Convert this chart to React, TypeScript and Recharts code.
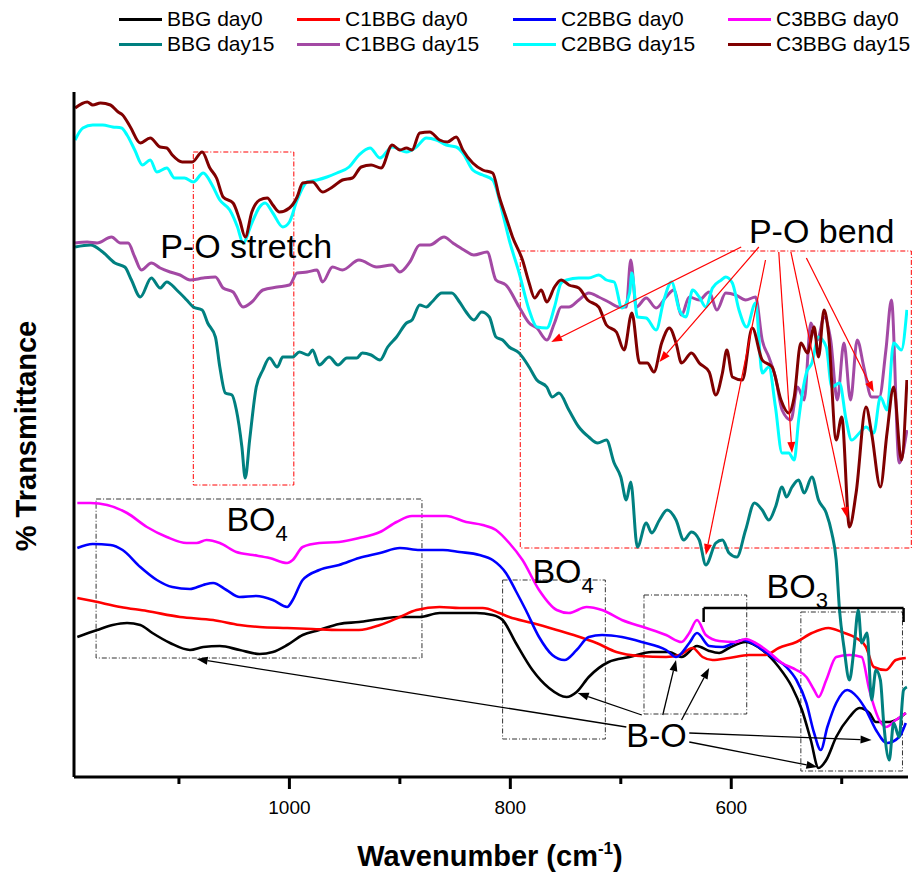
import React from 'react';
import { LineChart, Line, XAxis, YAxis, Legend, ReferenceArea, ReferenceLine, ReferenceDot } from 'recharts';

const FONT = '"Liberation Sans", Arial, Helvetica, sans-serif';

// wavenumber (cm-1), transmittance (arb. units, offset spectra)
const bbgDay0: [number, number][] = [
  [1192, 140], [1174, 147], [1160, 152], [1147, 154], [1135, 152], [1124, 144], [1108, 134], [1090, 127],
  [1078, 130], [1063, 131], [1045, 127], [1027, 123], [1015, 125], [1002, 132], [988, 142], [973, 147],
  [955, 153], [937, 155], [918, 158], [900, 160], [882, 160], [864, 164], [849, 164], [831, 164],
  [816, 162], [807, 157], [795, 134], [780, 107], [765, 89], [749, 80], [740, 85], [729, 100],
  [711, 115], [692, 120], [672, 125], [656, 125], [645, 120], [631, 131], [620, 126], [611, 124],
  [602, 129], [587, 135], [572, 127], [557, 110], [545, 90], [536, 67], [528, 37], [521, 9],
  [514, 17], [505, 40], [493, 60], [484, 69], [475, 64], [469, 55], [457, 55], [448, 59], [442, 64],
];

const c1bbgDay0: [number, number][] = [
  [1192, 179], [1178, 176], [1153, 170], [1129, 166], [1099, 160], [1069, 157], [1045, 152], [1027, 150],
  [1002, 149], [979, 148], [955, 147], [937, 147], [918, 152], [900, 160], [885, 167], [864, 170],
  [846, 169], [825, 169], [810, 164], [801, 160], [780, 154], [758, 147], [740, 141], [722, 134],
  [704, 125], [683, 121], [659, 120], [647, 122], [635, 129], [626, 120], [617, 117], [602, 119],
  [584, 122], [569, 122], [557, 129], [541, 135], [527, 144], [512, 149], [500, 145], [487, 139],
  [478, 130], [471, 110], [460, 107], [451, 117], [442, 119],
];

const c2bbgDay0: [number, number][] = [
  [1192, 229], [1178, 233], [1162, 232], [1151, 227], [1135, 210], [1120, 197], [1106, 190], [1090, 188],
  [1078, 192], [1069, 194], [1057, 187], [1045, 180], [1030, 181], [1015, 177], [1002, 170], [997, 177],
  [988, 197], [973, 207], [955, 212], [937, 219], [918, 224], [900, 229], [882, 227], [861, 227],
  [846, 225], [828, 222], [816, 217], [804, 204], [795, 186], [786, 167], [774, 140], [762, 122],
  [751, 117], [740, 127], [729, 140], [717, 142], [699, 140], [681, 135], [659, 127], [650, 120],
  [638, 134], [631, 144], [620, 131], [608, 130], [590, 137], [578, 132], [563, 120], [550, 110],
  [541, 97], [532, 74], [525, 44], [519, 27], [513, 50], [505, 74], [495, 87], [486, 80],
  [478, 67], [469, 47], [459, 34], [448, 40], [442, 54],
];

const c3bbgDay0: [number, number][] = [
  [1192, 274], [1180, 274], [1165, 272], [1147, 264], [1129, 250], [1111, 240], [1093, 234], [1084, 234],
  [1075, 237], [1063, 234], [1048, 225], [1033, 222], [1018, 219], [1002, 214], [997, 217], [988, 230],
  [973, 234], [955, 235], [937, 239], [918, 245], [903, 255], [889, 261], [876, 261], [858, 261],
  [840, 255], [825, 252], [813, 247], [801, 234], [789, 217], [774, 187], [758, 167], [747, 164],
  [731, 170], [717, 167], [699, 157], [677, 149], [659, 142], [645, 135], [638, 144], [631, 157],
  [623, 142], [611, 136], [596, 135], [587, 138], [578, 134], [566, 125], [554, 114], [541, 107],
  [532, 100], [525, 87], [521, 80], [514, 97], [505, 120], [493, 122], [482, 120], [475, 87],
  [466, 57], [460, 50], [451, 57], [442, 64],
];

const bbgDay15: [number, number][] = [
  [1194, 530], [1180, 532], [1169, 525], [1158, 514], [1149, 510], [1143, 497], [1135, 480], [1125, 499],
  [1117, 489], [1111, 495], [1102, 487], [1093, 477], [1087, 470], [1079, 467], [1074, 454], [1067, 440],
  [1063, 410], [1058, 384], [1052, 382], [1048, 367], [1043, 330], [1040, 299], [1036, 337], [1030, 390],
  [1024, 407], [1018, 419], [1011, 410], [1006, 420], [997, 420], [991, 425], [983, 422], [979, 427],
  [973, 412], [964, 420], [956, 412], [948, 419], [939, 419], [934, 424], [926, 422], [918, 417],
  [911, 430], [903, 440], [894, 454], [889, 457], [882, 472], [876, 470], [871, 475], [862, 484],
  [853, 484], [846, 475], [840, 465], [833, 457], [826, 465], [819, 460], [813, 440], [807, 437],
  [801, 430], [792, 424], [783, 410], [776, 397], [767, 390], [762, 380], [756, 384], [747, 367],
  [738, 350], [729, 340], [721, 334], [713, 337], [706, 314], [700, 300], [695, 277], [691, 295],
  [685, 230], [677, 254], [672, 244], [665, 257], [658, 267], [650, 257], [643, 237], [636, 245],
  [629, 237], [623, 212], [614, 234], [608, 237], [602, 224], [595, 220], [587, 247], [579, 274],
  [572, 267], [566, 257], [560, 270], [554, 290], [550, 280], [545, 290], [539, 297], [534, 284],
  [527, 300], [521, 277], [514, 264], [509, 244], [505, 217], [502, 167], [498, 130], [493, 97],
  [489, 127], [485, 167], [482, 134], [477, 144], [473, 77], [469, 107], [465, 97], [462, 54],
  [457, 17], [453, 54], [448, 40], [444, 87], [441, 90],
];

const c1bbgDay15: [number, number][] = [
  [1194, 534], [1183, 535], [1174, 534], [1161, 540], [1153, 534], [1146, 534], [1140, 520], [1134, 507],
  [1125, 514], [1117, 509], [1108, 505], [1099, 502], [1090, 497], [1078, 499], [1067, 500], [1060, 489],
  [1051, 485], [1042, 470], [1034, 475], [1024, 487], [1011, 490], [1000, 492], [993, 504], [984, 505],
  [975, 507], [970, 495], [961, 510], [952, 507], [937, 517], [921, 510], [907, 512], [900, 505],
  [891, 515], [882, 532], [873, 532], [860, 540], [852, 534], [842, 527], [833, 522], [821, 525],
  [813, 497], [804, 492], [792, 470], [783, 454], [776, 449], [767, 437], [760, 454], [754, 470],
  [747, 470], [738, 477], [729, 484], [720, 480], [711, 475], [701, 470], [695, 470], [691, 517],
  [686, 470], [677, 479], [668, 469], [659, 480], [652, 487], [645, 462], [638, 480], [629, 477],
  [620, 485], [613, 467], [605, 484], [596, 482], [587, 477], [578, 480], [572, 437], [566, 420],
  [560, 400], [554, 367], [546, 357], [540, 390], [534, 377], [528, 454], [522, 437], [516, 460],
  [510, 437], [504, 377], [498, 434], [492, 377], [486, 437], [480, 410], [473, 380], [466, 380],
  [460, 427], [455, 477], [448, 314], [441, 347],
];

const c2bbgDay15: [number, number][] = [
  [1194, 637], [1187, 649], [1178, 652], [1169, 652], [1160, 650], [1152, 649], [1147, 642], [1140, 627],
  [1133, 612], [1126, 617], [1120, 605], [1111, 609], [1104, 599], [1095, 599], [1087, 595], [1078, 604],
  [1070, 592], [1063, 577], [1054, 567], [1047, 550], [1042, 534], [1034, 554], [1027, 570], [1022, 574],
  [1015, 564], [1006, 550], [1000, 555], [993, 577], [984, 595], [975, 597], [966, 600], [957, 604],
  [946, 610], [937, 622], [927, 629], [918, 619], [907, 630], [894, 625], [885, 630], [876, 639],
  [867, 637], [858, 632], [849, 630], [843, 624], [834, 607], [825, 602], [816, 597], [807, 564],
  [801, 537], [792, 504], [783, 467], [776, 450], [767, 449], [760, 470], [754, 494], [749, 497],
  [738, 499], [729, 499], [720, 502], [713, 497], [706, 495], [699, 469], [692, 484], [690, 504],
  [685, 460], [677, 459], [668, 447], [661, 477], [654, 495], [647, 467], [641, 460], [635, 487],
  [629, 480], [623, 470], [617, 489], [609, 497], [605, 500], [599, 494], [593, 467], [586, 450],
  [578, 474], [572, 404], [566, 410], [560, 370], [554, 324], [548, 324], [543, 317], [539, 357],
  [532, 404], [527, 414], [521, 440], [514, 430], [509, 390], [502, 394], [496, 357], [491, 337],
  [484, 344], [478, 350], [471, 344], [465, 380], [459, 367], [453, 434], [446, 427], [441, 467],
];

const c3bbgDay15: [number, number][] = [
  [1194, 669], [1183, 675], [1178, 672], [1171, 674], [1162, 672], [1155, 665], [1151, 662], [1144, 650],
  [1135, 634], [1126, 639], [1117, 630], [1111, 629], [1106, 622], [1097, 615], [1088, 615], [1079, 625],
  [1072, 609], [1066, 599], [1060, 580], [1051, 574], [1045, 557], [1040, 540], [1034, 565], [1027, 577],
  [1020, 579], [1015, 572], [1009, 565], [1000, 569], [993, 580], [988, 594], [979, 595], [970, 585],
  [961, 590], [952, 597], [943, 599], [935, 610], [926, 612], [917, 609], [907, 632], [900, 627],
  [894, 629], [889, 627], [882, 644], [873, 645], [864, 637], [857, 635], [849, 640], [843, 627],
  [834, 614], [825, 607], [816, 604], [810, 580], [804, 560], [798, 540], [789, 517], [783, 494],
  [778, 479], [772, 487], [767, 475], [760, 490], [754, 497], [747, 492], [738, 489], [730, 477],
  [720, 470], [713, 452], [704, 445], [697, 427], [690, 464], [683, 414], [676, 414], [670, 405],
  [663, 434], [656, 449], [650, 434], [645, 414], [636, 424], [629, 414], [620, 405], [614, 382],
  [608, 404], [604, 427], [599, 400], [590, 397], [581, 449], [572, 417], [563, 410], [555, 377],
  [548, 364], [543, 380], [537, 434], [531, 424], [525, 450], [521, 420], [516, 467], [512, 444],
  [505, 337], [500, 360], [493, 250], [487, 284], [478, 370], [473, 344], [465, 290], [459, 344],
  [453, 390], [446, 317], [441, 397],
];

const xTicks = [1100, 1000, 900, 800, 700, 600, 500];
const xLabelled = [1000, 800, 600];

const SERIES = [
  { name: 'BBG day0', color: '#000000', data: bbgDay0, width: 2.6 },
  { name: 'C1BBG day0', color: '#ff0000', data: c1bbgDay0, width: 2.6 },
  { name: 'C2BBG day0', color: '#0000ff', data: c2bbgDay0, width: 2.6 },
  { name: 'C3BBG day0', color: '#ff00ff', data: c3bbgDay0, width: 2.6 },
  { name: 'BBG day15', color: '#008080', data: bbgDay15, width: 3 },
  { name: 'C1BBG day15', color: '#a349a4', data: c1bbgDay15, width: 3 },
  { name: 'C2BBG day15', color: '#00ffff', data: c2bbgDay15, width: 3 },
  { name: 'C3BBG day15', color: '#800000', data: c3bbgDay15, width: 3 },
];

// annotation boxes: [x1, x2, y1, y2, colour]
const boxes: [number, number, number, number, string][] = [
  [1087, 996, 292, 625, '#ff0000'],
  [791, 437, 229, 526, '#ff0000'],
  [1175, 880, 119, 278, '#333333'],
  [807, 714, 38, 197, '#333333'],
  [679, 586, 63, 182, '#333333'],
  [537, 445, 6, 165, '#333333'],
];

// arrows: from [x, y] to [x, y]
const poBendArrows: [number, number, number, number][] = [
  [591, 530, 763, 435],
  [575, 530, 665, 415],
  [569, 517, 623, 222],
  [557, 525, 545, 324],
  [546, 525, 495, 259],
  [532, 519, 471, 385],
];
const boArrows: [number, number, number, number][] = [
  [695, 50, 1084, 118],
  [681, 62, 739, 84],
  [662, 62, 650, 117],
  [645, 57, 620, 109],
  [638, 44, 473, 37],
  [638, 35, 522, 10],
];

const toPts = (arr: [number, number][]) => arr.map(([x, y]) => ({ x, y }));

const arrowShape = (color: string, width: number) => (p: any) => {
  const { x1, y1, x2, y2 } = p;
  const ang = Math.atan2(y2 - y1, x2 - x1);
  const len = 11;
  const half = 4;
  const bx = x2 - len * Math.cos(ang);
  const by = y2 - len * Math.sin(ang);
  const lx = bx + half * Math.sin(ang);
  const ly = by - half * Math.cos(ang);
  const rx = bx - half * Math.sin(ang);
  const ry = by + half * Math.cos(ang);
  return (
    <g>
      <line x1={x1} y1={y1} x2={bx} y2={by} stroke={color} strokeWidth={width} />
      <polygon points={`${x2},${y2} ${lx},${ly} ${rx},${ry}`} fill={color} />
    </g>
  );
};

const textShape = (label: string, sub?: string) => (p: any) => (
  <text x={p.cx} y={p.cy} fontFamily={FONT} fontSize={34} fill="#000">
    {label}
    {sub && <tspan fontSize={22} dy={10}>{sub}</tspan>}
  </text>
);

const XTick = (props: any) => {
  const { x, y, payload } = props;
  const major = xLabelled.includes(payload.value);
  return (
    <g>
      <line x1={x} y1={y} x2={x} y2={y + (major ? 12 : 7)} stroke="#000" strokeWidth={3} />
      {major && (
        <text x={x} y={y + 37} textAnchor="middle" fontFamily={FONT} fontSize={19} fill="#000">
          {payload.value}
        </text>
      )}
    </g>
  );
};

const renderLegend = () => {
  const lineX = [119, 297, 513, 728];
  const rowY = [19, 44];
  return (
    <div style={{ position: 'relative', width: 920, height: 70 }}>
      {SERIES.map((s, i) => {
        const col = i % 4;
        const row = Math.floor(i / 4);
        return (
          <div key={s.name} style={{ position: 'absolute', left: lineX[col], top: rowY[row] - 11, height: 22, lineHeight: '22px', display: 'flex', alignItems: 'center', whiteSpace: 'nowrap' }}>
            <span style={{ display: 'inline-block', width: 43, height: 3, background: s.color, marginRight: 5 }} />
            <span style={{ fontFamily: FONT, fontSize: 21, lineHeight: '22px', color: '#000' }}>{s.name}</span>
          </div>
        );
      })}
    </div>
  );
};

export default function App() {
  return (
    <div style={{ width: 920, height: 872, background: '#fff' }}>
      <style>{'body{margin:0}'}</style>
      <LineChart width={920} height={872} margin={{ top: 92, right: 12, bottom: 0, left: 73 }}>
        <XAxis
          type="number"
          dataKey="x"
          domain={[440, 1195]}
          reversed
          allowDataOverflow
          ticks={xTicks}
          tick={<XTick />}
          tickLine={false}
          tickSize={0}
          tickMargin={0}
          height={95}
          axisLine={{ stroke: '#000', strokeWidth: 3 }}
          label={{
            content: () => (
              <text x={490} y={866} textAnchor="middle" fontFamily={FONT} fontSize={29} fontWeight="bold" fill="#000">
                Wavenumber (cm<tspan fontSize={17} dy={-12}>-1</tspan><tspan dy={12}>)</tspan>
              </text>
            ),
          }}
        />
        <YAxis
          type="number"
          dataKey="y"
          domain={[0, 685]}
          allowDataOverflow
          width={1}
          tick={false}
          tickLine={false}
          axisLine={{ stroke: '#000', strokeWidth: 3 }}
          label={{
            content: () => (
              <text x={36} y={436} transform="rotate(-90 36 436)" textAnchor="middle" fontFamily={FONT} fontSize={29} fontWeight="bold" fill="#000">
                % Transmittance
              </text>
            ),
          }}
        />
        <Legend layout="horizontal" verticalAlign="middle" align="center" wrapperStyle={{ top: 0, left: 0 }} content={renderLegend} />
        {boxes.map(([x1, x2, y1, y2, c], i) => (
          <ReferenceArea key={`b${i}`} x1={x1} x2={x2} y1={y1} y2={y2} fill="none" fillOpacity={0} stroke={c} strokeWidth={1} strokeDasharray="5 2 1 2" ifOverflow="visible" />
        ))}
        {SERIES.map((s) => (
          <Line
            key={s.name}
            data={toPts(s.data)}
            dataKey="y"
            name={s.name}
            type="monotone"
            stroke={s.color}
            strokeWidth={s.width}
            dot={false}
            activeDot={false}
            isAnimationActive={false}
          />
        ))}
        {poBendArrows.map(([ax, ay, bx, by], i) => (
          <ReferenceLine key={`pa${i}`} segment={[{ x: ax, y: ay }, { x: bx, y: by }]} ifOverflow="visible" shape={arrowShape('#ff0000', 1.2)} />
        ))}
        {boArrows.map(([ax, ay, bx, by], i) => (
          <ReferenceLine key={`ba${i}`} segment={[{ x: ax, y: ay }, { x: bx, y: by }]} ifOverflow="visible" shape={arrowShape('#000', 1.3)} />
        ))}
        <ReferenceLine segment={[{ x: 625, y: 169 }, { x: 444, y: 169 }]} stroke="#000" strokeWidth={2.5} ifOverflow="visible" />
        <ReferenceLine segment={[{ x: 625, y: 169 }, { x: 625, y: 155 }]} stroke="#000" strokeWidth={2.5} ifOverflow="visible" />
        <ReferenceLine segment={[{ x: 444, y: 169 }, { x: 444, y: 155 }]} stroke="#000" strokeWidth={2.5} ifOverflow="visible" />
        <ReferenceDot x={1117} y={519} ifOverflow="visible" shape={textShape('P-O stretch')} />
        <ReferenceDot x={584} y={534} ifOverflow="visible" shape={textShape('P-O bend')} />
        <ReferenceDot x={1057} y={246} ifOverflow="visible" shape={textShape('BO', '4')} />
        <ReferenceDot x={780} y={194} ifOverflow="visible" shape={textShape('BO', '4')} />
        <ReferenceDot x={568} y={179} ifOverflow="visible" shape={textShape('BO', '3')} />
        <ReferenceDot x={695} y={30} ifOverflow="visible" shape={textShape('B-O')} />
      </LineChart>
    </div>
  );
}
